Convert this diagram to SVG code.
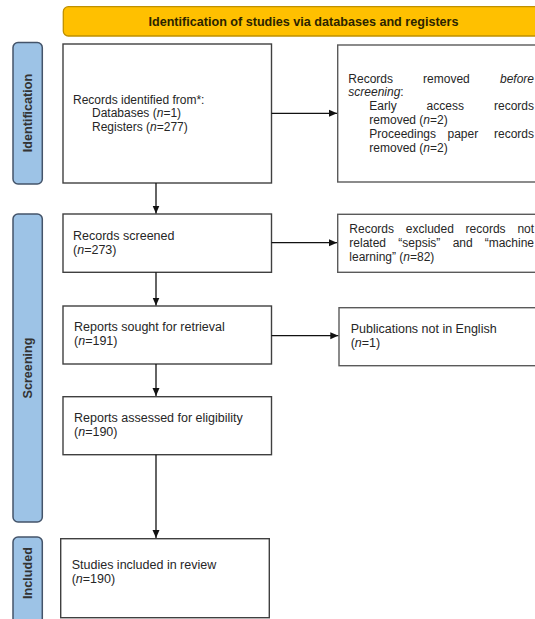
<svg xmlns="http://www.w3.org/2000/svg" width="535" height="619" viewBox="0 0 535 619">
<defs>
<marker id="ah" viewBox="0 0 8 8" refX="8" refY="4" markerWidth="8" markerHeight="8" markerUnits="userSpaceOnUse" orient="auto">
<path d="M0,0.5 L8,4 L0,7.5 Z" fill="#111"/>
</marker>
<style>
.box{fill:#fff;stroke:#404040;stroke-width:1.4}
.rbox{fill:#fff;stroke:#5a5a5a;stroke-width:1.4}
.side{fill:#9dc3e6;stroke:#44546a;stroke-width:1.5}
.t{font-family:"Liberation Sans",Arial,sans-serif;font-size:12px;fill:#262626}
.t2{font-size:12.5px}
.i{font-style:italic}
.lbl{font-family:"Liberation Sans",Arial,sans-serif;font-size:12.6px;font-weight:bold;fill:#333;text-anchor:middle;dominant-baseline:central}
.con{stroke:#111;stroke-width:1.3;fill:none;marker-end:url(#ah)}
</style>
</defs>
<rect width="535" height="619" fill="#fff"/>

<g id="banner">
<rect x="63.3" y="6.7" width="482" height="29.3" rx="5" fill="#ffc000" stroke="#bf9000" stroke-width="1.3"/>
<text class="lbl" x="303.5" y="21.7" style="fill:#2b2400">Identification of studies via databases and registers</text>
</g>

<g id="label-identification">
<rect class="side" x="13" y="42.5" width="29.3" height="141.5" rx="5"/>
<text class="lbl" transform="translate(28,113) rotate(-90)">Identification</text>
</g>
<g id="label-screening">
<rect class="side" x="13" y="214" width="29.3" height="308" rx="5"/>
<text class="lbl" transform="translate(28,368) rotate(-90)">Screening</text>
</g>
<g id="label-included">
<rect class="side" x="13" y="537" width="29.3" height="90" rx="5"/>
<text class="lbl" transform="translate(28,573) rotate(-90)">Included</text>
</g>

<g id="records-identified">
<rect class="box" x="63" y="44" width="208.5" height="139"/>
<text class="t" x="73" y="103.5">Records identified from*:</text>
<text class="t" x="92" y="117.3">Databases (<tspan class="i">n</tspan>=1)</text>
<text class="t" x="92" y="131.1">Registers (<tspan class="i">n</tspan>=277)</text>
</g>

<g id="records-removed">
<rect class="rbox" x="337.7" y="45" width="220" height="137"/>
<text class="t" y="82.5"><tspan x="348.3">Records</tspan><tspan x="423.1">removed</tspan><tspan x="500" class="i">before</tspan></text>
<text class="t" x="348.3" y="96.3"><tspan class="i">screening</tspan>:</text>
<text class="t" y="110"><tspan x="369.3">Early</tspan><tspan x="426.6">access</tspan><tspan x="494">records</tspan></text>
<text class="t" x="369.3" y="124">removed (<tspan class="i">n</tspan>=2)</text>
<text class="t" y="138"><tspan x="369.3">Proceedings</tspan><tspan x="447.5">paper</tspan><tspan x="494">records</tspan></text>
<text class="t" x="369.3" y="152">removed (<tspan class="i">n</tspan>=2)</text>
</g>

<g id="records-screened">
<rect class="box" x="63" y="214" width="208.5" height="58.3"/>
<text class="t t2" x="73" y="240">Records screened</text>
<text class="t t2" x="73" y="254">(<tspan class="i">n</tspan>=273)</text>
</g>

<g id="records-excluded">
<rect class="rbox" x="337.7" y="214.3" width="220" height="58"/>
<text class="t" y="233.3"><tspan x="349.3">Records</tspan><tspan x="405.8">excluded</tspan><tspan x="465.6">records</tspan><tspan x="517.4">not</tspan></text>
<text class="t" y="247"><tspan x="349.3">related</tspan><tspan x="398.3">“sepsis”</tspan><tspan x="452.7">and</tspan><tspan x="484.7">“machine</tspan></text>
<text class="t" x="349.3" y="260.7">learning” (<tspan class="i">n</tspan>=82)</text>
</g>

<g id="reports-sought">
<rect class="box" x="63" y="306" width="208.5" height="58"/>
<text class="t t2" x="74" y="331">Reports sought for retrieval</text>
<text class="t t2" x="74" y="345">(<tspan class="i">n</tspan>=191)</text>
</g>

<g id="not-english">
<rect class="rbox" x="339" y="307.7" width="220" height="58"/>
<text class="t t2" x="350.7" y="332.5">Publications not in English</text>
<text class="t t2" x="350.7" y="346.5">(<tspan class="i">n</tspan>=1)</text>
</g>

<g id="reports-assessed">
<rect class="box" x="63" y="396.7" width="208.5" height="58"/>
<text class="t t2" x="74" y="421.5">Reports assessed for eligibility</text>
<text class="t t2" x="74" y="435.5">(<tspan class="i">n</tspan>=190)</text>
</g>

<g id="studies-included">
<rect class="box" x="60.7" y="538.7" width="208.6" height="79"/>
<text class="t t2" x="71.7" y="568.5">Studies included in review</text>
<text class="t t2" x="71.7" y="582.5">(<tspan class="i">n</tspan>=190)</text>
</g>

<g id="connectors">
<line class="con" x1="156" y1="183" x2="156" y2="213.5"/>
<line class="con" x1="156" y1="272.3" x2="156" y2="305.5"/>
<line class="con" x1="156" y1="364" x2="156" y2="396"/>
<line class="con" x1="156" y1="454.7" x2="156" y2="538"/>
<line class="con" x1="271.5" y1="113.3" x2="337" y2="113.3"/>
<line class="con" x1="271.5" y1="242.7" x2="337" y2="242.7"/>
<line class="con" x1="271.5" y1="335.7" x2="338.3" y2="335.7"/>
</g>
</svg>
